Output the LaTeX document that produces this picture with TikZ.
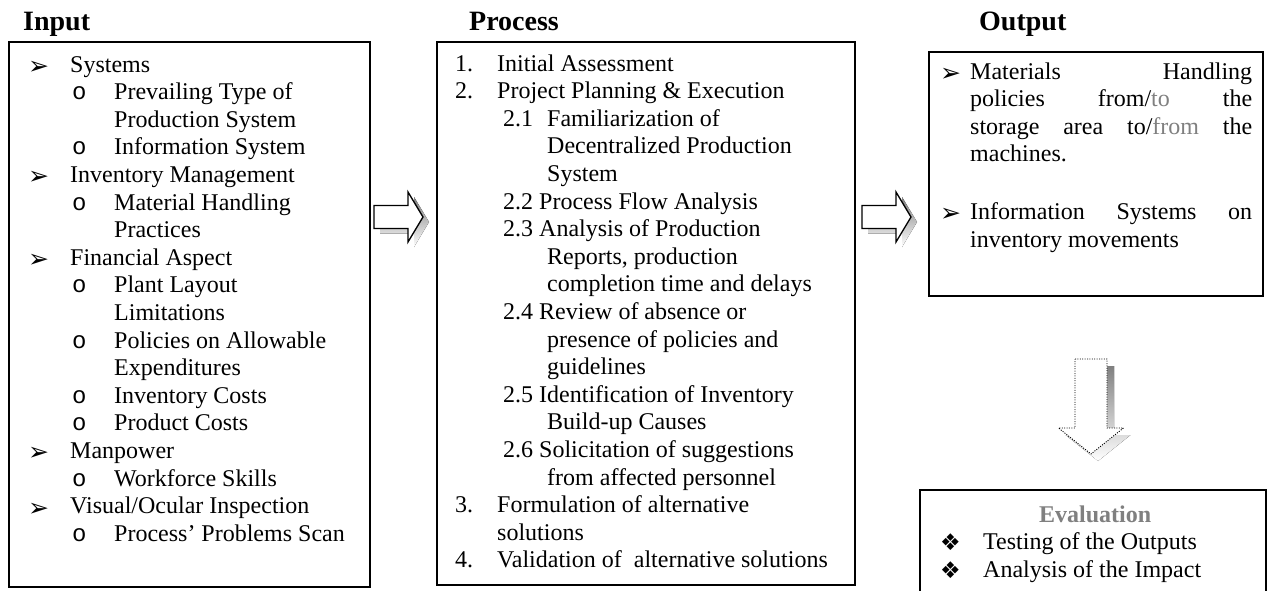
\documentclass[tikz,border=0pt]{standalone}
\usepackage{fontspec}
\setmainfont{Liberation Serif}
\newfontfamily\dvfont{DejaVu Sans}
\newfontfamily\monofont{Liberation Mono}
\definecolor{shade}{gray}{0.6}
\definecolor{softtext}{gray}{0.5}

% list markers
\newcommand\arw{\raisebox{-2.5pt}{\dvfont\fontsize{25}{25}\selectfont ➢}}
\newcommand\obul{{\monofont o}}
\newcommand\diam{\raisebox{-1pt}{\dvfont\fontsize{23}{23}\selectfont ❖}}

\begin{document}
\begin{tikzpicture}[x=1pt,y=-1pt,
  frame/.style={draw, line width=1.8pt, inner sep=0pt, anchor=north west},
  title/.style={anchor=base west, inner sep=0pt, font=\fontsize{28}{30}\selectfont\bfseries},
  body/.style={anchor=base west, inner sep=0pt, font=\fontsize{24}{27.6}\selectfont},
  rblock/.pic={
    \fill[shade, shift={(6,5)}] (0,-11.5) -- (34,-11.5) -- (34,-25) -- (49,0) -- (34,25) -- (34,11.5) -- (0,11.5) -- cycle;
    \draw[line width=1.3pt, fill=white] (0,-11.5) -- (34,-11.5) -- (34,-25) -- (49,0) -- (34,25) -- (34,11.5) -- (0,11.5) -- cycle;
  },
  dblock/.pic={
    \fill[shade, shift={(7,7)}] (-16,0) -- (16,0) -- (16,69) -- (32.5,69) -- (0,95) -- (-32.5,69) -- (-16,69) -- cycle;
    \draw[line width=0.9pt, dash pattern=on 1pt off 1.4pt, fill=white] (-16,0) -- (16,0) -- (16,69) -- (32.5,69) -- (0,95) -- (-32.5,69) -- (-16,69) -- cycle;
  }]
\useasboundingbox (0,0) rectangle (1267,590);
\clip (0,0) rectangle (1267,590);
\fill[white] (0,0) rectangle (1267,590);

% column titles
\node[title] (intitle) at (23,30) {Input};
\node[title] (proctitle) at (469,30) {Process};
\node[title] (outtitle) at (979,30) {Output};

% frames
\node[frame, minimum width=361pt, minimum height=545pt] (inbox) at (8,41) {};
\node[frame, minimum width=418pt, minimum height=543pt] (procbox) at (436,41) {};
\node[frame, minimum width=334pt, minimum height=244pt] (outbox) at (928,51) {};
\node[frame, minimum width=346pt, minimum height=140pt] (evalbox) at (919,489) {};

% input list
\node[body] (intext) at (28,72) {\parbox[t]{340pt}{%
\makebox[42pt][l]{\arw}Systems\\
\hspace*{44pt}\makebox[42pt][l]{\obul}Prevailing Type of\\
\hspace*{86pt}Production System\\
\hspace*{44pt}\makebox[42pt][l]{\obul}Information System\\
\makebox[42pt][l]{\arw}Inventory Management\\
\hspace*{44pt}\makebox[42pt][l]{\obul}Material Handling\\
\hspace*{86pt}Practices\\
\makebox[42pt][l]{\arw}Financial Aspect\\
\hspace*{44pt}\makebox[42pt][l]{\obul}Plant Layout\\
\hspace*{86pt}Limitations\\
\hspace*{44pt}\makebox[42pt][l]{\obul}Policies on Allowable\\
\hspace*{86pt}Expenditures\\
\hspace*{44pt}\makebox[42pt][l]{\obul}Inventory Costs\\
\hspace*{44pt}\makebox[42pt][l]{\obul}Product Costs\\
\makebox[42pt][l]{\arw}Manpower\\
\hspace*{44pt}\makebox[42pt][l]{\obul}Workforce Skills\\
\makebox[42pt][l]{\arw}Visual/Ocular Inspection\\
\hspace*{44pt}\makebox[42pt][l]{\obul}Process’ Problems Scan}};

% process list
\node[body] (proctext) at (455,71) {\parbox[t]{395pt}{%
\makebox[42pt][l]{1.}Initial Assessment\\
\makebox[42pt][l]{2.}Project Planning \& Execution\\
\hspace*{48pt}\makebox[44pt][l]{2.1}Familiarization of\\
\hspace*{92pt}Decentralized Production\\
\hspace*{92pt}System\\
\hspace*{48pt}2.2 Process Flow Analysis\\
\hspace*{48pt}2.3 Analysis of Production\\
\hspace*{92pt}Reports, production\\
\hspace*{92pt}completion time and delays\\
\hspace*{48pt}2.4 Review of absence or\\
\hspace*{92pt}presence of policies and\\
\hspace*{92pt}guidelines\\
\hspace*{48pt}2.5 Identification of Inventory\\
\hspace*{92pt}Build-up Causes\\
\hspace*{48pt}2.6 Solicitation of suggestions\\
\hspace*{92pt}from affected personnel\\
\makebox[42pt][l]{3.}Formulation of alternative\\
\hspace*{42pt}solutions\\
\makebox[42pt][l]{4.}Validation of\ \ alternative solutions}};

% output list
\node[body] (outtext) at (940,79) {\parbox[t]{318pt}{%
\makebox[30pt][l]{\arw}\hbox to 282pt{Materials\hfill Handling}\\
\hspace*{30pt}\hbox to 282pt{policies\hfill from/\textcolor{softtext}{to}\hfill the}\\
\hspace*{30pt}\hbox to 282pt{storage\hfill area\hfill to/\textcolor{softtext}{from}\hfill the}\\
\hspace*{30pt}machines.\\[30pt]
\makebox[30pt][l]{\arw}\hbox to 282pt{Information\hfill Systems\hfill on}\\
\hspace*{30pt}inventory movements}};

% evaluation list
\node[body] (evaltext) at (940,522) {\parbox[t]{320pt}{%
\makebox[310pt][c]{\textcolor{softtext}{\bfseries Evaluation}}\\
\makebox[43pt][l]{\diam}Testing of the Outputs\\
\makebox[43pt][l]{\diam}Analysis of the Impact}};

% block arrows between the stages
\coordinate (a1) at (374,217);
\coordinate (a2) at (862,217);
\coordinate (a3) at (1091,359);
\pic at (a1) {rblock};
\pic at (a2) {rblock};
\pic at (a3) {dblock};
\end{tikzpicture}
\end{document}
